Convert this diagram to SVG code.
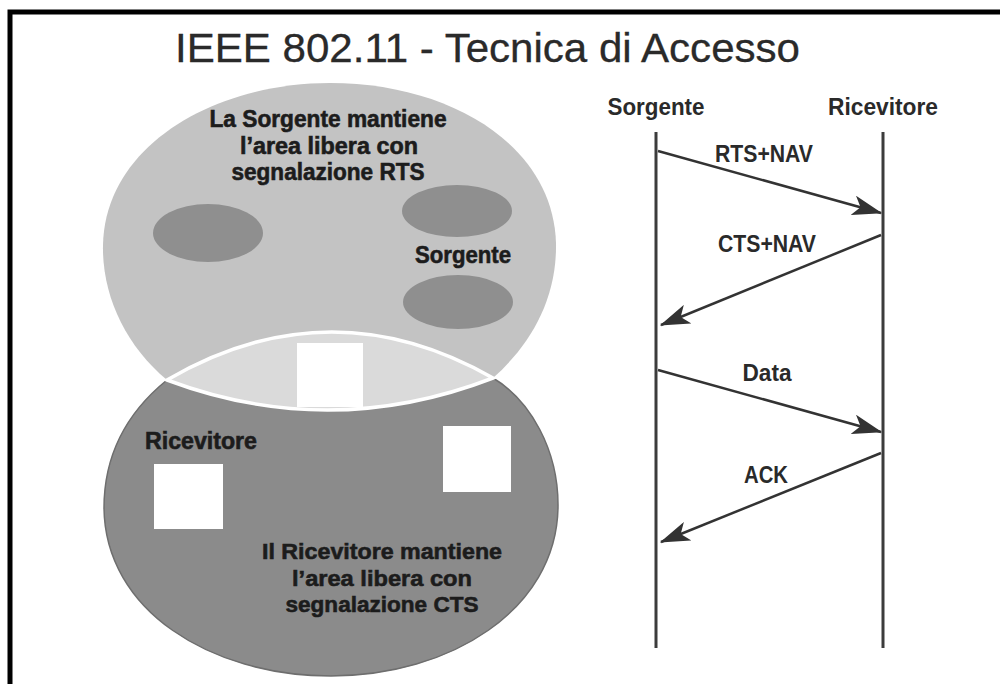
<svg xmlns="http://www.w3.org/2000/svg" width="1000" height="684" viewBox="0 0 1000 684">
  <defs>
    <style>
      .lbl { font-family: "Liberation Sans", Arial, sans-serif; font-weight: bold; fill: #1c1c1c; stroke: #1c1c1c; stroke-width: 0.6; }
      .hdr { font-family: "Liberation Sans", Arial, sans-serif; font-weight: bold; fill: #2a2a2a; }
      .title { font-family: "Liberation Sans", Arial, sans-serif; fill: #2a2a2a; stroke: #2a2a2a; stroke-width: 0.3; }
      .life { stroke: #3c3c3c; stroke-width: 3; fill: none; }
      .msg { stroke: #333333; stroke-width: 2.5; fill: none; marker-end: url(#arr); }
      .spot { fill: #8f8f8f; }
      .sq { fill: #ffffff; }
    </style>
    <marker id="arr" viewBox="0 0 12 8" refX="11.5" refY="4" markerWidth="12" markerHeight="8" markerUnits="strokeWidth" orient="auto">
      <path d="M0,0 L12,4 L0,8 L3,4 Z" fill="#333333"/>
    </marker>
  </defs>

  <rect width="1000" height="684" fill="#ffffff"/>
  <!-- frame -->
  <path d="M10,684 L10,12 L1000,12" fill="none" stroke="#000" stroke-width="5"/>

  <g id="title">
    <text class="title" x="175" y="62" font-size="40" textLength="625" lengthAdjust="spacingAndGlyphs">IEEE 802.11 - Tecnica di Accesso</text>
  </g>

  <g id="upper-area">
    <path d="M167,380 C125,345 102,295 103,245 C105,145 215,83 330,83 C450,83 553,145 556,243 C557,300 530,345 493,378 Q330,441 167,380 Z" fill="#c3c3c3"/>
    <ellipse class="spot" cx="208" cy="233" rx="55" ry="29"/>
    <ellipse class="spot" cx="457" cy="211" rx="55" ry="26"/>
    <ellipse class="spot" cx="458" cy="302" rx="55" ry="27"/>
    <text class="lbl" x="328" y="127" font-size="23" text-anchor="middle" textLength="237" lengthAdjust="spacingAndGlyphs">La Sorgente mantiene</text>
    <text class="lbl" x="329" y="154" font-size="23" text-anchor="middle" textLength="178" lengthAdjust="spacingAndGlyphs">l’area libera con</text>
    <text class="lbl" x="328" y="180" font-size="23" text-anchor="middle" textLength="193" lengthAdjust="spacingAndGlyphs">segnalazione RTS</text>
    <text class="lbl" x="463" y="263" font-size="24" text-anchor="middle" textLength="96" lengthAdjust="spacingAndGlyphs">Sorgente</text>
  </g>

  <g id="lower-area">
    <path d="M167,380 Q330,285 493,378 C530,400 559,450 558,508 C556,610 450,676 331,676 C210,676 105,610 104,508 C104,450 130,410 167,380 Z" fill="#8b8b8b" stroke="#6e6e6e" stroke-width="1.5"/>
    <rect class="sq" x="154" y="464" width="69" height="65"/>
    <rect class="sq" x="443" y="426" width="68" height="66"/>
    <text class="lbl" x="145" y="449" font-size="23" textLength="112" lengthAdjust="spacingAndGlyphs">Ricevitore</text>
    <text class="lbl" x="382" y="559" font-size="22.5" text-anchor="middle" textLength="240" lengthAdjust="spacingAndGlyphs">Il Ricevitore mantiene</text>
    <text class="lbl" x="382" y="586" font-size="22.5" text-anchor="middle" textLength="180" lengthAdjust="spacingAndGlyphs">l’area libera con</text>
    <text class="lbl" x="382" y="612" font-size="22.5" text-anchor="middle" textLength="193" lengthAdjust="spacingAndGlyphs">segnalazione CTS</text>
  </g>

  <g id="overlap">
    <path d="M167,380 Q330,285 493,378 Q330,441 167,380 Z" fill="#dadada" stroke="#ffffff" stroke-width="3.5"/>
    <rect class="sq" x="297" y="343" width="66" height="64"/>
  </g>

  <g id="seq-sorgente">
    <text class="hdr" x="656" y="115" font-size="24" text-anchor="middle" textLength="97" lengthAdjust="spacingAndGlyphs">Sorgente</text>
    <line class="life" x1="656" y1="132" x2="656" y2="648"/>
  </g>

  <g id="seq-ricevitore">
    <text class="hdr" x="883" y="115" font-size="24" text-anchor="middle" textLength="110" lengthAdjust="spacingAndGlyphs">Ricevitore</text>
    <line class="life" x1="883" y1="132" x2="883" y2="648"/>
  </g>

  <g id="connectors">
    <line class="msg" x1="658" y1="151" x2="881" y2="213"/>
    <line class="msg" x1="881" y1="235" x2="661" y2="325"/>
    <line class="msg" x1="658" y1="370" x2="881" y2="432"/>
    <line class="msg" x1="881" y1="453" x2="661" y2="542"/>
    <text class="hdr" x="764" y="162" font-size="24" text-anchor="middle" textLength="98" lengthAdjust="spacingAndGlyphs">RTS+NAV</text>
    <text class="hdr" x="767" y="252" font-size="24" text-anchor="middle" textLength="98" lengthAdjust="spacingAndGlyphs">CTS+NAV</text>
    <text class="hdr" x="767" y="381" font-size="24" text-anchor="middle" textLength="49" lengthAdjust="spacingAndGlyphs">Data</text>
    <text class="hdr" x="766" y="483" font-size="24" text-anchor="middle" textLength="44" lengthAdjust="spacingAndGlyphs">ACK</text>
  </g>
</svg>
